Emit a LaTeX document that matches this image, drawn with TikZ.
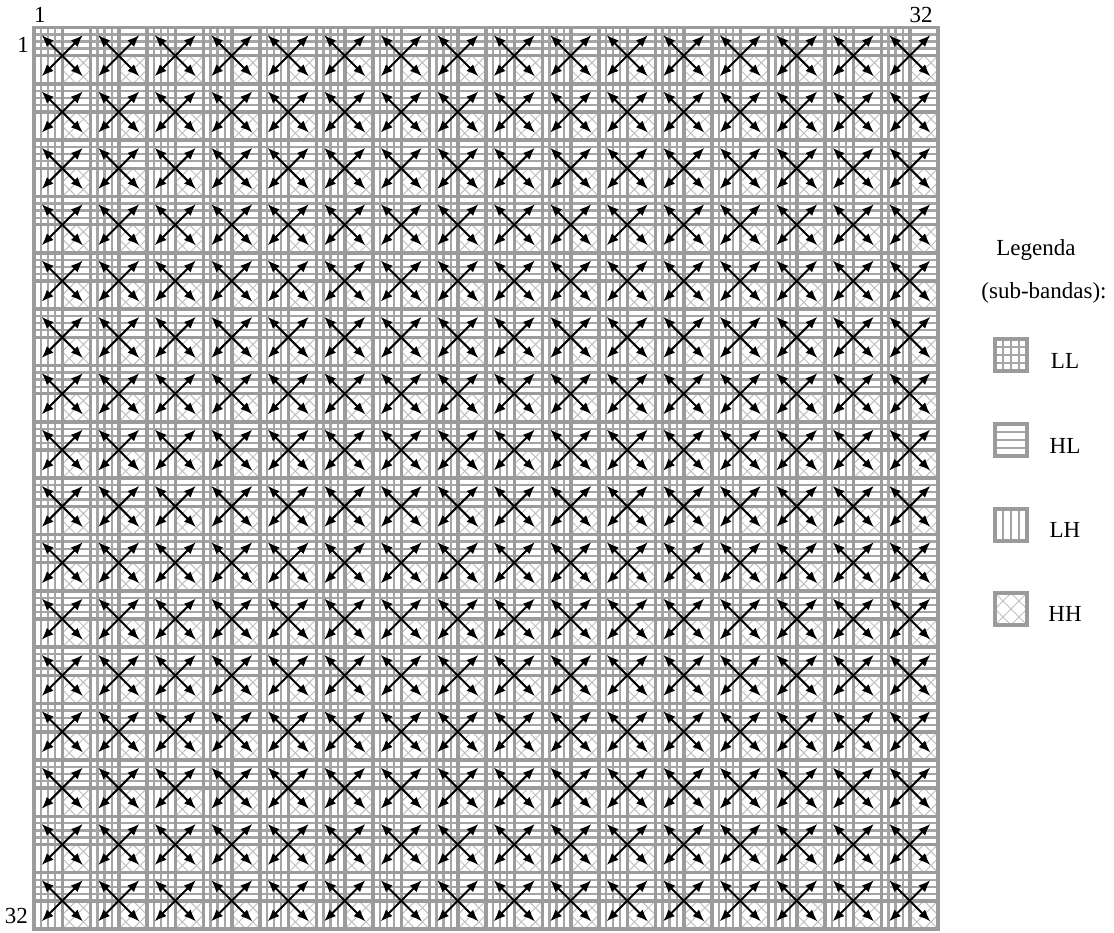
\documentclass[tikz,border=0pt]{standalone}
\usepackage{fontspec}
\setmainfont{Liberation Serif}
\usetikzlibrary{arrows.meta}
\definecolor{bandgray}{RGB}{155,155,155}
\definecolor{stripegray}{RGB}{165,165,165}
\definecolor{hatchgray}{RGB}{192,192,192}

\begin{document}
\begin{tikzpicture}[x=1pt, y=-1pt,
    cellline/.style={draw=bandgray, line width=3.5pt},
    stripe/.style={draw=stripegray, line width=2.3pt},
    hatch/.style={draw=hatchgray, line width=1pt},
    swaparrow/.style={{Latex[length=12pt,width=9.5pt]}-{Latex[length=12pt,width=9.5pt]},
                      line width=2pt},
    lbl/.style={font=\fontsize{23}{27}\selectfont, inner sep=0pt},
    legicon/.style={minimum size=32pt, inner sep=0pt, outer sep=0pt}]
  \useasboundingbox (0,0) rectangle (1114,932);
  \def\ox{34}\def\oy{27.5}\def\cw{28.25}\def\ch{28.17}

  % LL / LH columns: vertical stripes, LL / HL rows: horizontal stripes
  \foreach \i in {0,...,15}
    \foreach \k in {1,2,3} {
      \draw[stripe] ({\ox+(2*\i+\k/4)*\cw},\oy) -- ++(0,{32*\ch});
      \draw[stripe] (\ox,{\oy+(2*\i+\k/4)*\ch}) -- ++({32*\cw},0);
    }

  % HH cells: crosshatch
  \foreach \i in {0,...,15}
    \foreach \j in {0,...,15}
      \draw[hatch, shift={({\ox+(2*\i+1)*\cw},{\oy+(2*\j+1)*\ch})}]
        (0,14.1) -- (14.1,0) (0,28.2) -- (28.2,0) (14.1,28.2) -- (28.2,14.1)
        (0,0) -- (28.2,28.2) (14.1,0) -- (28.2,14.1) (0,14.1) -- (14.1,28.2);

  % cell borders
  \foreach \k in {0,...,32} {
    \draw[cellline] ({\ox+\k*\cw},\oy) -- ++(0,{32*\ch});
    \draw[cellline] (\ox,{\oy+\k*\ch}) -- ++({32*\cw},0);
  }
  \draw[cellline] (\ox,\oy) rectangle ++({32*\cw},{32*\ch});

  % exchanges inside each 2x2 block
  \foreach \i in {0,...,15}
    \foreach \j in {0,...,15} {
      \coordinate (ll-\i-\j) at ({\ox+(2*\i+1)*\cw-20.6},{\oy+(2*\j+1)*\ch-20.6});
      \coordinate (hh-\i-\j) at ({\ox+(2*\i+1)*\cw+20.6},{\oy+(2*\j+1)*\ch+20.6});
      \coordinate (hl-\i-\j) at ({\ox+(2*\i+1)*\cw+20.6},{\oy+(2*\j+1)*\ch-20.6});
      \coordinate (lh-\i-\j) at ({\ox+(2*\i+1)*\cw-20.6},{\oy+(2*\j+1)*\ch+20.6});
      \draw[swaparrow] (ll-\i-\j) -- (hh-\i-\j);
      \draw[swaparrow] (lh-\i-\j) -- (hl-\i-\j);
    }

  % indices
  \node[lbl] (colfirst) at (40,15) {1};
  \node[lbl] (collast) at (921,15) {32};
  \node[lbl, anchor=east] (rowfirst) at (29,45) {1};
  \node[lbl, anchor=east] (rowlast) at (28,916) {32};

  % legend
  \node[lbl, anchor=base] (legtitle) at (1036,255) {Legenda};
  \node[lbl, anchor=base] (legsub) at (1044,298) {(sub-bandas):};

  \node[legicon] (iconLL) at (1011,355) {};
  \node[legicon] (iconHL) at (1011,440) {};
  \node[legicon] (iconLH) at (1011,525) {};
  \node[legicon] (iconHH) at (1011,609) {};

  \foreach \k in {1,2,3} {
    \draw[stripe, shift={(iconLL.north west)}] ({8*\k},0) -- ({8*\k},32) (0,{8*\k}) -- (32,{8*\k});
    \draw[stripe, shift={(iconHL.north west)}] (0,{8*\k}) -- (32,{8*\k});
    \draw[stripe, shift={(iconLH.north west)}] ({8*\k},0) -- ({8*\k},32);
  }
  \draw[hatch, shift={(iconHH.north west)}]
    (0,16) -- (16,0) (0,32) -- (32,0) (16,32) -- (32,16)
    (0,0) -- (32,32) (16,0) -- (32,16) (0,16) -- (16,32);
  \foreach \b in {LL,HL,LH,HH}
    \draw[cellline] (icon\b.north west) rectangle (icon\b.south east);

  \node[lbl, anchor=base] (txtLL) at (1065,368) {LL};
  \node[lbl, anchor=base] (txtHL) at (1065,453) {HL};
  \node[lbl, anchor=base] (txtLH) at (1065,537) {LH};
  \node[lbl, anchor=base] (txtHH) at (1065,621) {HH};
\end{tikzpicture}
\end{document}
